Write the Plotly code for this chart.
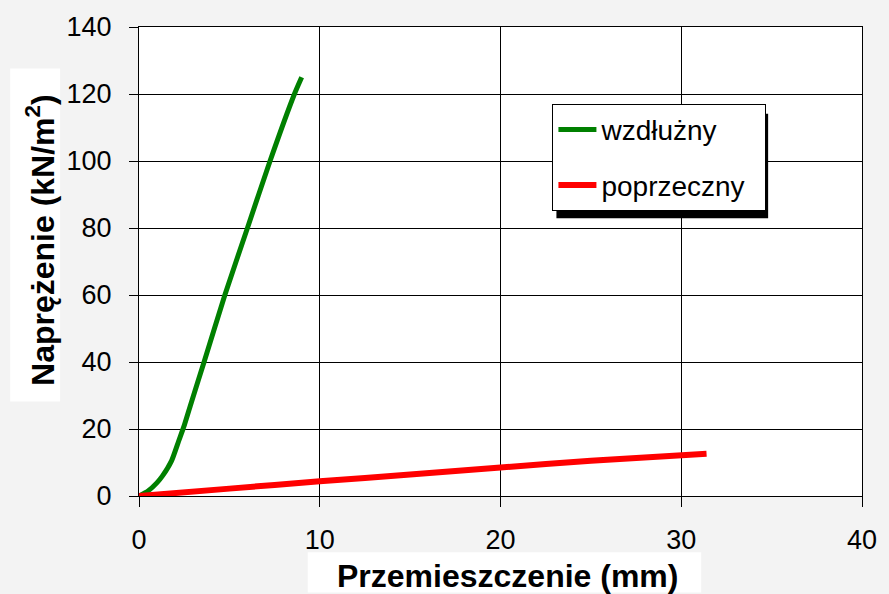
import plotly.graph_objects as go

# Data
wzdluzny_x = [0, 0.5, 1.0, 1.3, 1.8, 2.2, 2.5, 2.9, 3.6, 4.75, 6.0, 7.25, 8.6, 9.0]
wzdluzny_y = [0, 1.5, 4.0, 6.0, 10.5, 16.5, 21.0, 28.0, 40.0, 60.0, 80.0, 100.0, 120.0, 125.0]

poprzeczny_x = [0, 5, 10, 15, 20, 25, 31.4]
poprzeczny_y = [0, 2.2, 4.4, 6.4, 8.5, 10.5, 12.6]

x_ticks = [0, 10, 20, 30, 40]
y_ticks = [0, 20, 40, 60, 80, 100, 120, 140]

FONT = "Liberation Sans, Arial, sans-serif"

L, R, T, B = 139, 26, 20, 98
W, H = 889, 594
PW, PH = W - L - R, H - T - B


def px(x):
    return (x - L) / PW


def py(y):
    return (H - B - y) / PH


fig = go.Figure()
fig.add_trace(go.Scatter(x=wzdluzny_x, y=wzdluzny_y, mode="lines", name="wzdłużny",
                         legendgroup="a",
                         line=dict(color="#008000", width=5, shape="spline", smoothing=0.6)))
fig.add_trace(go.Scatter(x=poprzeczny_x, y=poprzeczny_y, mode="lines",
                         name="poprzeczny\u00a0\u00a0",
                         legendgroup="b",
                         line=dict(color="#ff0000", width=6, shape="spline", smoothing=0.5)))

fig.update_layout(
    width=W, height=H,
    margin=dict(l=L, r=R, t=T, b=B),
    paper_bgcolor="#f3f3f3",
    plot_bgcolor="#ffffff",
    font=dict(family=FONT, size=27, color="#000000"),
    showlegend=True,
    legend=dict(x=px(553), y=py(98), xanchor="left", yanchor="top",
                bgcolor="#ffffff", bordercolor="#000000", borderwidth=1,
                font=dict(size=28, family=FONT), tracegroupgap=16,
                itemwidth=38),
    xaxis=dict(range=[0, 40], tickvals=x_ticks, showgrid=True, gridcolor="#000000",
               gridwidth=1, zeroline=False, showline=True, linecolor="#000000",
               linewidth=1, mirror=True, ticks="outside", ticklen=10,
               tickcolor="#000000", ticklabelstandoff=10,
               tickfont=dict(size=27, family=FONT)),
    yaxis=dict(range=[0, 140], tickvals=y_ticks, showgrid=True, gridcolor="#000000",
               gridwidth=1, zeroline=False, showline=True, linecolor="#000000",
               linewidth=1, mirror=True, ticks="outside", ticklen=9,
               tickcolor="#000000", ticklabelstandoff=12,
               tickfont=dict(size=27, family=FONT)),
    shapes=[
        dict(type="rect", xref="paper", yref="paper",
             x0=px(557), x1=px(769), y0=py(214), y1=py(108),
             fillcolor="#000000", line=dict(width=0), layer="above"),
        dict(type="rect", xref="paper", yref="paper",
             x0=px(308), x1=px(702), y0=py(594), y1=py(553),
             fillcolor="#ffffff", line=dict(width=0), layer="below"),
        dict(type="rect", xref="paper", yref="paper",
             x0=px(10), x1=px(60), y0=py(400), y1=py(62),
             fillcolor="#ffffff", line=dict(width=0), layer="below"),
    ],
    annotations=[
        dict(text="<b>Przemieszczenie (mm)</b>", xref="paper", yref="paper",
             x=px(508), y=py(577), xanchor="center", yanchor="middle", showarrow=False,
             font=dict(size=32, family=FONT)),
        dict(text="<b>Naprężenie (kN/m<sup>2</sup>)</b>", xref="paper", yref="paper",
             x=px(40), y=py(236), xanchor="center", yanchor="middle", showarrow=False,
             textangle=-90, font=dict(size=32, family=FONT)),
    ],
)

fig.write_html("out.html")
